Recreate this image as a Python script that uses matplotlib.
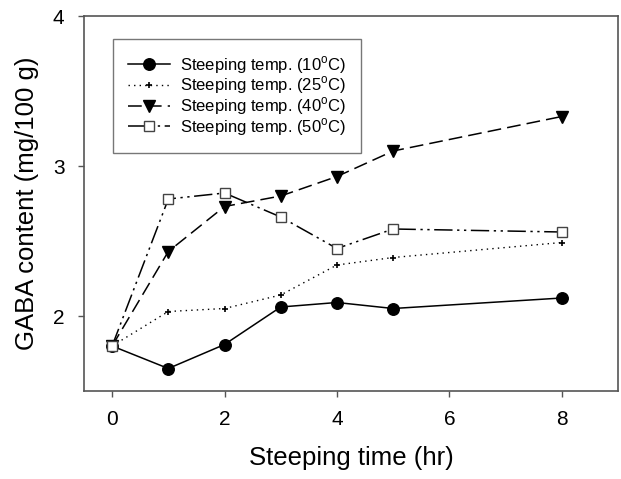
import matplotlib
matplotlib.use('Agg')
import matplotlib.pyplot as plt

plt.rcParams['font.family'] = ['Liberation Sans', 'DejaVu Sans']

# dados
tempo = [0, 1, 2, 3, 4, 5, 8]
gaba_10 = [1.80, 1.65, 1.81, 2.06, 2.09, 2.05, 2.12]
gaba_25 = [1.80, 2.03, 2.05, 2.14, 2.34, 2.39, 2.49]
gaba_40 = [1.80, 2.43, 2.73, 2.80, 2.93, 3.10, 3.33]
gaba_50 = [1.80, 2.78, 2.82, 2.66, 2.45, 2.58, 2.56]
rotulos = ['Steeping temp. (10$^{\\mathregular{o}}$C)',
           'Steeping temp. (25$^{\\mathregular{o}}$C)',
           'Steeping temp. (40$^{\\mathregular{o}}$C)',
           'Steeping temp. (50$^{\\mathregular{o}}$C)']

fig = plt.figure(figsize=(6.21, 4.79), dpi=100)
ax = fig.add_axes([84 / 621, 1 - 391 / 479, (618 - 84) / 621, (391 - 16) / 479])

ax.plot(tempo, gaba_10, color='black', lw=1.1, marker='o', ms=8.3, label=rotulos[0])
ax.plot(tempo, gaba_25, color='black', lw=1.0, ls=(0, (1, 3)), marker='+', ms=4,
        mew=1.2, label=rotulos[1])
ax.plot(tempo, gaba_40, color='black', lw=1.1, ls=(0, (9, 4)), marker='v', ms=8.3,
        label=rotulos[2])
ax.plot(tempo, gaba_50, color='black', lw=1.1, ls=(0, (12, 3, 1.5, 3, 1.5, 3)),
        marker='s', ms=6.8, mfc='white', mec='#444444', label=rotulos[3])

ax.set_xlim(-0.5, 9)
ax.set_ylim(1.5, 4)
ax.set_xticks([0, 2, 4, 6, 8])
ax.set_yticks([2, 3, 4])
ax.tick_params(direction='out', length=4, width=1, colors='#555555', labelcolor='black',
               labelsize=15, pad=10)
for s in ax.spines.values():
    s.set_color('#555555')
    s.set_linewidth(1.2)

ax.set_xlabel('Steeping time (hr)', fontsize=18.5, labelpad=12)
ax.set_ylabel('GABA content (mg/100 g)', fontsize=18.5, labelpad=10)

leg = ax.legend(loc='upper left', bbox_to_anchor=((113 - 84) / 534, 1 - (39 - 16) / 375),
                fontsize=12, frameon=True, fancybox=False, handlelength=2.5,
                labelspacing=-0.06, borderpad=0.9, handletextpad=0.6, borderaxespad=0)
leg.get_frame().set_edgecolor('#555555')
leg.get_frame().set_linewidth(1.0)

fig.savefig('out.png', dpi=100)
